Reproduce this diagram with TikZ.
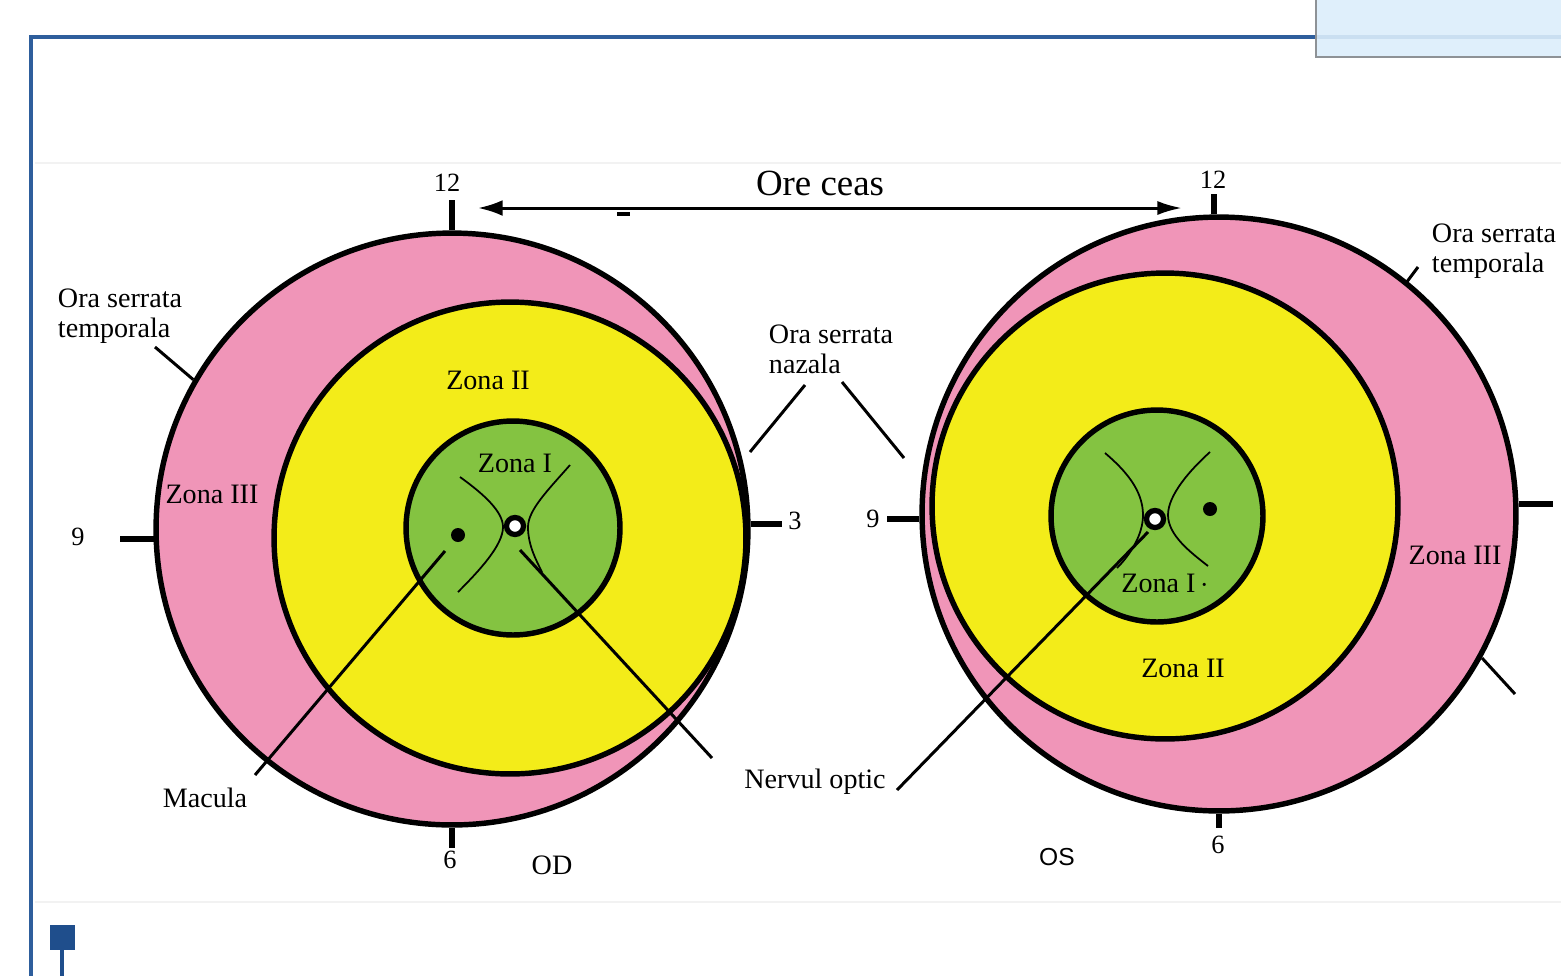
\documentclass[tikz,border=0pt]{standalone}
\usepackage{fontspec}
\setmainfont{Liberation Serif}
\newfontfamily\sansf{Liberation Sans}
\usetikzlibrary{arrows.meta}
\definecolor{zpink}{HTML}{F095B8}
\definecolor{zyellow}{HTML}{F3EC19}
\definecolor{zgreen}{HTML}{84C341}
\definecolor{frameblue}{HTML}{2E5E9C}
\definecolor{markblue}{HTML}{1F4E8C}
\definecolor{boxblue}{HTML}{DCEEFB}
\definecolor{boxgray}{HTML}{8E9296}
\definecolor{faint}{HTML}{F2F2F2}
\begin{document}
\begin{tikzpicture}[x=0.02cm,y=-0.02cm,
  lbl/.style={font=\fontsize{16}{17}\selectfont, inner sep=0pt, align=left},
  num/.style={font=\fontsize{15}{17}\selectfont, inner sep=0pt},
  ring/.style={circle, draw=black, inner sep=0pt, line width=3.1pt},
  leader/.style={line width=1.7pt},
  vein/.style={line width=1pt},
  tickmark/.style={line width=3.4pt},
  nerve/.style={circle, draw=black, fill=white, inner sep=0pt, minimum size=0.34cm, line width=3pt},
  macdot/.style={circle, fill=black, inner sep=0pt, minimum size=0.28cm}]
\useasboundingbox (0,0) rectangle (1561,975);
\fill[white] (0,0) rectangle (1561,975);
% faint picture edges
\draw[faint, line width=1pt] (35,163) -- (1561,163);
\draw[faint, line width=1pt] (35,902) -- (1561,902);
% frame
\draw[frameblue, line width=2.4pt] (31,976) -- (31,37) -- (1561,37);
\filldraw[fill=boxblue, draw=boxgray, line width=1.4pt, fill opacity=0.9] (1316,-5) rectangle (1566,57);
\fill[markblue] (50,925) rectangle (75,950);
\draw[markblue, line width=2.4pt] (62,950) -- (62,976);

% ---------- OD (left eye) ----------
\node[ring, fill=zpink, minimum size=11.84cm] (odO) at (452,529) {};
\node[ring, fill=zyellow, minimum size=9.44cm] (odY) at (510,538) {};
\node[ring, fill=zgreen, minimum size=4.28cm] (odG) at (513,528) {};
\draw[vein] (460,477) .. controls (485,495) and (503,512) .. (503,527) .. controls (503,545) and (480,570) .. (458,592);
\draw[vein] (570,465) .. controls (548,490) and (528,510) .. (528,527) .. controls (528,545) and (536,560) .. (542,572);
\node[nerve] (odN) at (515,526) {};
\node[macdot] (odM) at (458,535) {};
\node[lbl] (odZ1) at (515,463) {Zona I};
\node[lbl] (odZ2) at (488,380) {Zona II};
\node[lbl] (odZ3) at (212,494) {Zona III};
% ticks
\draw[tickmark] (odO.north) -- ++(0,-30) coordinate (od12);
\draw[tickmark] (odO.182) -- ++(-34,0) coordinate (od9);
\draw[tickmark] (odO.1) -- ++(31,0) coordinate (od3);
\draw[tickmark] (odO.south) -- ++(0,20) coordinate (od6);
\node[num] (od12l) at (447,183) {12};
\node[num] (od9l) at (78,537) {9};
\node[num] (od3l) at (795,521) {3};
\node[num] (od6l) at (450,860) {6};
\node[lbl] (odl) at (552,865) {OD};

% ---------- OS (right eye) ----------
\node[ring, fill=zpink, minimum size=11.88cm] (osO) at (1219,514) {};
\node[ring, fill=zyellow, minimum size=9.32cm] (osY) at (1165,506) {};
\node[ring, fill=zgreen, minimum size=4.24cm] (osG) at (1157,516) {};
\draw[vein] (1105,453) .. controls (1125,470) and (1143,490) .. (1143,515) .. controls (1143,535) and (1130,555) .. (1117,568);
\draw[vein] (1210,452) .. controls (1190,470) and (1168,495) .. (1168,515) .. controls (1168,535) and (1190,552) .. (1208,566);
\node[nerve] (osN) at (1155,519) {};
\node[macdot] (osM) at (1210,509) {};
\node[lbl] (osZ1) at (1165,583) {Zona I\,$\cdot$};
\node[lbl] (osZ2) at (1183,668) {Zona II};
\node[lbl] (osZ3) at (1455,555) {Zona III};
\draw[tickmark] (osO.91) -- ++(0,-20) coordinate (os12);
\draw[tickmark] (osO.181) -- ++(-32,0) coordinate (os9);
\draw[tickmark] (osO.2) -- ++(34,0) coordinate (os3);
\draw[tickmark] (osO.270) -- ++(0,14) coordinate (os6);
\node[num] (os12l) at (1213,180) {12};
\node[num] (os9l) at (873,519) {9};
\node[num] (os6l) at (1218,845) {6};
\node[lbl, font=\sansf\fontsize{14}{16}\selectfont] (osl) at (1057,857) {OS};

% ---------- clock hours arrow ----------
\coordinate (arL) at (478,208);
\coordinate (arR) at (1182,208);
\draw[line width=1.7pt, {Latex[length=14pt,width=9pt]}-{Latex[length=14pt,width=8pt]}] (arL) -- (arR);
\node[font=\fontsize{21}{23}\selectfont, inner sep=0pt] (ore) at (820,183) {Ore ceas};
\draw[line width=2pt] (617,214) -- (630,214);

% ---------- labels and leaders ----------
\node[lbl] (ostL) at (120,316) {Ora serrata\\temporala};
\coordinate (ostLa) at (155,347);
\draw[leader] (ostLa) -- (odO.150);

\node[lbl] (osn) at (831,349) {Ora serrata\\nazala};
\coordinate (osnA) at (805,385);
\coordinate (osnB) at (750,452);
\coordinate (osnC) at (842,382);
\coordinate (osnD) at (904,458);
\draw[leader] (osnA) -- (osnB);
\draw[leader] (osnC) -- (osnD);

\node[lbl] (ostR) at (1494,251) {Ora serrata\\temporala};
\coordinate (ostRa) at (1418,267);
\coordinate (ostRb) at (1406,283);
\draw[leader] (ostRa) -- (ostRb);
\coordinate (osx1) at (1482,658);
\coordinate (osx2) at (1515,694);
\draw[leader] (osx1) -- (osx2);

\node[lbl] (nerv) at (815,782) {Nervul optic};
\coordinate (nvL1) at (520,550);
\coordinate (nvL2) at (712,758);
\draw[leader] (nvL1) -- (nvL2);
\coordinate (nvR1) at (897,790);
\coordinate (nvR2) at (1148,532);
\draw[leader] (nvR1) -- (nvR2);

\node[lbl] (mac) at (205,798) {Macula};
\coordinate (mcA) at (445,551);
\coordinate (mcB) at (255,775);
\draw[leader] (mcA) -- (mcB);
\end{tikzpicture}
\end{document}
